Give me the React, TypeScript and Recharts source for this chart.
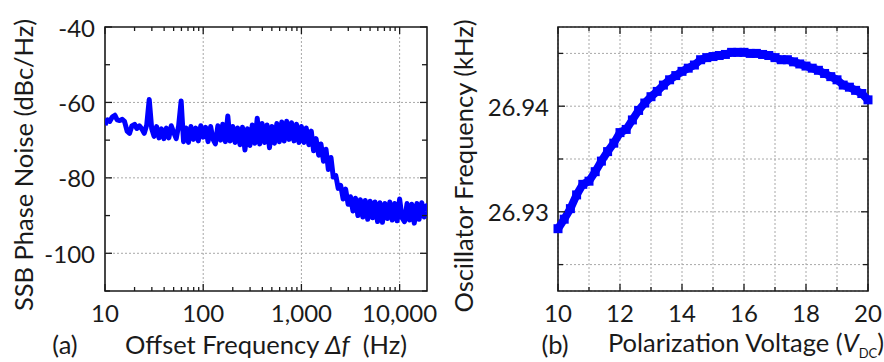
import React from "react";
import {
  ComposedChart,
  Line,
  XAxis,
  YAxis,
  CartesianGrid,
  ReferenceLine,
  ReferenceArea,
} from "recharts";

const FONT = "Lato, 'Open Sans', sans-serif";
const INK = "#1a1a1a";
const BLUE = "#0000ff";
const GRID = "#a8a8a8";

// ---- panel (a): SSB phase noise vs offset frequency
const offsetHz = [
  10, 10.6, 11.2, 11.9, 12.6, 13.3, 14.1, 15.0, 15.8, 16.8, 17.8, 18.8, 20.0, 21.1, 22.4, 23.7, 25.1, 26.6, 28.2, 29.9,
  31.6, 33.5, 35.5, 37.6, 39.8, 42.2, 44.7, 47.3, 50.1, 53.1, 56.2, 59.6, 63.1, 66.8, 70.8, 75.0, 79.4, 84.1, 89.1, 94.4, 100,
  106, 112, 119, 126, 133, 141, 150, 158, 168, 178, 188, 200, 211, 224, 237, 251, 266, 282, 299, 316,
  335, 355, 376, 398, 422, 447, 473, 501, 531, 562, 596, 631, 668, 708, 750, 794, 841, 891, 944, 1000,
  1060, 1120, 1190, 1260, 1330, 1410, 1500, 1580, 1680, 1780, 1880, 2000, 2110, 2240, 2370, 2510, 2660, 2820, 2990, 3160,
  3350, 3550, 3760, 3980, 4220, 4470, 4730, 5010, 5310, 5620, 5960, 6310, 6680, 7080, 7500, 7940, 8410, 8910, 9440, 10000,
  10600, 11200, 11900, 12600, 13300, 14100, 15000, 15800, 16800, 17800, 18800, 19000,
];
const ssbNoise = [
  -66.0, -64.6, -65.0, -63.8, -63.4, -64.6, -64.8, -64.5, -65.0, -67.6, -68.2, -66.2, -65.8, -66.9, -66.2, -67.0, -68.2, -66.0, -59.2,
  -67.0, -69.0, -66.4, -69.4, -67.0, -69.6, -66.8, -69.4, -66.2, -68.0, -69.6, -66.2, -59.6, -70.4, -66.8, -70.6, -66.4, -69.8, -66.8, -70.2, -66.2, -69.2,
  -66.6, -70.4, -66.4, -69.8, -71.0, -66.2, -70.0, -65.8, -70.4, -63.6, -70.2, -66.4, -70.6, -66.8, -71.2, -66.6, -72.6, -67.0, -71.4, -66.0,
  -70.8, -64.2, -71.0, -65.6, -70.6, -66.0, -72.0, -66.4, -70.8, -65.6, -70.4, -65.2, -70.2, -65.0, -69.8, -65.4, -70.2, -65.8, -70.6, -66.4,
  -70.6, -66.8, -71.2, -67.6, -72.8, -69.6, -74.0, -71.0, -75.6, -72.4, -77.8, -74.6, -79.8, -79.4, -82.8, -82.0, -85.6, -83.0, -87.0, -85.0,
  -88.8, -85.4, -90.0, -85.8, -90.4, -86.0, -91.0, -86.2, -90.6, -86.4, -91.6, -86.6, -91.8, -86.8, -90.8, -86.4, -91.2, -86.8, -91.4, -85.6,
  -90.6, -91.6, -86.8, -91.2, -87.0, -92.0, -86.8, -91.0, -86.6, -90.4, -87.4, -89.0,
];
const offsetTicks = [
  10, 20, 30, 40, 50, 60, 70, 80, 90, 100, 200, 300, 400, 500, 600, 700, 800, 900,
  1000, 2000, 3000, 4000, 5000, 6000, 7000, 8000, 9000, 10000,
];
const offsetLabels = [10, 100, 1000, 10000];
const offsetGrid = [100, 1000, 10000];
const noiseTicks = [-110, -100, -90, -80, -70, -60, -50, -40];
const noiseLabels = [-100, -80, -60, -40];
const noiseGrid = [-100, -80, -60];

// ---- panel (b): oscillator frequency vs polarization voltage
const biasVolts = [
  10.0, 10.2, 10.4, 10.6, 10.8, 11.0, 11.2, 11.4, 11.6, 11.8, 12.0, 12.2, 12.4, 12.6, 12.8, 13.0, 13.2, 13.4, 13.6, 13.8,
  14.0, 14.2, 14.4, 14.6, 14.8, 15.0, 15.2, 15.4, 15.6, 15.8, 16.0, 16.2, 16.4, 16.6, 16.8, 17.0, 17.2, 17.4, 17.6, 17.8,
  18.0, 18.2, 18.4, 18.6, 18.8, 19.0, 19.2, 19.4, 19.6, 19.8, 20.0,
];
const oscKHz = [
  26.9284, 26.9293, 26.9303, 26.9316, 26.9326, 26.9329, 26.9338, 26.9348, 26.9357, 26.9365, 26.9375, 26.9378, 26.9387, 26.9396, 26.9403, 26.9409, 26.9414, 26.942, 26.9425, 26.9429,
  26.9433, 26.9436, 26.9439, 26.9444, 26.9446, 26.9447, 26.9448, 26.9449, 26.9451, 26.9451, 26.9451, 26.945, 26.945, 26.9449, 26.9448, 26.9446, 26.9444, 26.9444, 26.9442, 26.944,
  26.9438, 26.9436, 26.9434, 26.9431, 26.9428, 26.9425, 26.942, 26.9418, 26.9415, 26.9412, 26.9406,
];
const voltTicks = [10, 11, 12, 13, 14, 15, 16, 17, 18, 19, 20];
const voltLabels = [10, 12, 14, 16, 18, 20];
const freqTicks = [26.925, 26.93, 26.935, 26.94, 26.945];
const freqLabels = [26.93, 26.94];

const phaseData = offsetHz.map((f, i) => ({ f, noise: ssbNoise[i] }));
const oscData = biasVolts.map((v, i) => ({ v, freq: oscKHz[i] }));

// plot box sizes (px)
const A_W = 322;
const A_H = 264;
const B_W = 310;
const B_H = 264;
const X_GAP = 21;
const Y_GAP = 10;

const tickText = {
  fontSize: 24,
  fill: INK,
  fontFamily: FONT,
};

function makeXTick(labels: number[], plotH: number, fmt: (v: number) => string) {
  return (props: any) => {
    const { x, y, payload, index } = props;
    const v = payload.value;
    const major = labels.includes(v);
    const base = y - X_GAP;
    const len = major ? 7 : 4;
    return (
      <g key={`xt-${index}`}>
        <line x1={x} x2={x} y1={base} y2={base - len} stroke={INK} strokeWidth={1.3} />
        <line x1={x} x2={x} y1={base - plotH} y2={base - plotH + len} stroke={INK} strokeWidth={1.3} />
        {major && (
          <text x={x} y={y} textAnchor="middle" dominantBaseline="central" {...tickText}>
            {fmt(v)}
          </text>
        )}
      </g>
    );
  };
}

function makeYTick(labels: number[], plotW: number, gap: number, fmt: (v: number) => string) {
  return (props: any) => {
    const { x, y, payload, index } = props;
    const v = payload.value;
    const major = labels.includes(v);
    const base = x + gap;
    const len = major ? 7 : 5;
    return (
      <g key={`yt-${index}`}>
        <line x1={base} x2={base + len} y1={y} y2={y} stroke={INK} strokeWidth={1.3} />
        <line x1={base + plotW} x2={base + plotW - len} y1={y} y2={y} stroke={INK} strokeWidth={1.3} />
        {major && (
          <text x={x} y={y} textAnchor="end" dominantBaseline="central" {...tickText}>
            {fmt(v)}
          </text>
        )}
      </g>
    );
  };
}

const SquareDot = (p: any) => (
  <rect key={`sq-${p.index}`} x={p.cx - 4.5} y={p.cy - 4.5} width={9} height={9} fill={BLUE} />
);

const label = (left: number, top: number, rotate = false): React.CSSProperties => ({
  position: "absolute",
  left,
  top,
  transform: rotate ? "translate(-50%, -50%) rotate(-90deg)" : "translate(-50%, -50%)",
  whiteSpace: "nowrap",
  fontFamily: FONT,
  fontSize: 25.5,
  color: INK,
  lineHeight: 1,
});

export default function App() {
  return (
    <div style={{ position: "absolute", left: 0, top: 0, width: 884, height: 362, background: "#fff", overflow: "hidden" }}>
      <div style={{ position: "absolute", left: 0, top: 0 }}>
        <ComposedChart width={440} height={362} data={phaseData} margin={{ top: 27, right: 13, bottom: 41, left: 45 }}>
          {offsetGrid.map((g) => (
            <ReferenceLine key={`gx${g}`} x={g} stroke={GRID} strokeDasharray="2 2" />
          ))}
          {noiseGrid.map((g) => (
            <ReferenceLine key={`gy${g}`} y={g} stroke={GRID} strokeDasharray="2 2" />
          ))}
          <XAxis
            dataKey="f"
            type="number"
            scale="log"
            domain={[10, 19000]}
            allowDataOverflow
            ticks={offsetTicks}
            interval={0}
            height={30}
            tickSize={0}
            tickMargin={X_GAP}
            axisLine={false}
            tickLine={false}
            tick={makeXTick(offsetLabels, A_H, (v) => v.toLocaleString("en-US"))}
          />
          <YAxis
            type="number"
            domain={[-110, -40]}
            allowDataOverflow
            ticks={noiseTicks}
            interval={0}
            width={60}
            tickSize={0}
            tickMargin={Y_GAP}
            axisLine={false}
            tickLine={false}
            tick={makeYTick(noiseLabels, A_W, Y_GAP, (v) => String(v))}
          />
          <Line
            dataKey="noise"
            type="linear"
            stroke={BLUE}
            strokeWidth={5}
            strokeLinejoin="round"
            dot={false}
            isAnimationActive={false}
          />
          <ReferenceArea x1={10} x2={19000} y1={-110} y2={-40} fill="none" stroke={INK} strokeWidth={1.6} />
        </ComposedChart>
      </div>

      <div style={{ position: "absolute", left: 440, top: 0 }}>
        <ComposedChart width={444} height={362} data={oscData} margin={{ top: 27, right: 16, bottom: 41, left: 38 }}>
          <CartesianGrid stroke={GRID} strokeDasharray="2 2" />
          <XAxis
            dataKey="v"
            type="number"
            domain={[10, 20]}
            ticks={voltTicks}
            interval={0}
            height={30}
            tickSize={0}
            tickMargin={X_GAP}
            axisLine={false}
            tickLine={false}
            tick={makeXTick(voltLabels, B_H, (v) => String(v))}
          />
          <YAxis
            type="number"
            domain={[26.9225, 26.9475]}
            allowDataOverflow
            ticks={freqTicks}
            interval={0}
            width={80}
            tickSize={0}
            tickMargin={9}
            axisLine={false}
            tickLine={false}
            tick={makeYTick(freqLabels, B_W, 9, (v) => v.toFixed(2))}
          />
          <Line
            dataKey="freq"
            type="linear"
            stroke={BLUE}
            strokeWidth={8}
            dot={SquareDot}
            isAnimationActive={false}
          />
          <ReferenceArea x1={10} x2={20} y1={26.9225} y2={26.9475} fill="none" stroke={INK} strokeWidth={1.6} />
        </ComposedChart>
      </div>

      <div style={label(24, 165, true)}>SSB Phase Noise (dBc/Hz)</div>
      <div style={label(65, 345)}>(a)</div>
      <div style={label(266, 345)}>
        Offset Frequency <i>Δf</i>&nbsp; (Hz)
      </div>

      <div style={label(464, 166, true)}>Oscillator Frequency (kHz)</div>
      <div style={label(555, 345)}>(b)</div>
      <div style={label(746, 345)}>
        Polarization Voltage (<i>V</i>
        <sub style={{ fontSize: 13 }}>DC</sub>)
      </div>
    </div>
  );
}
